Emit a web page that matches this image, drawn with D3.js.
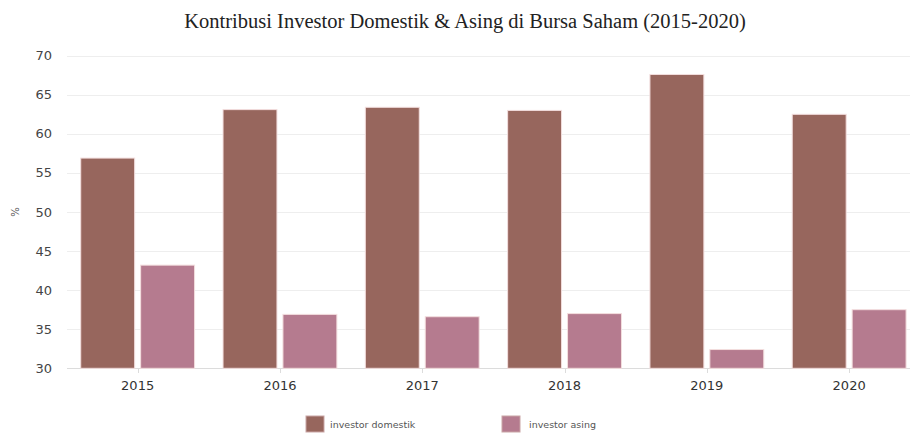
<!DOCTYPE html>
<html>
<head>
<meta charset="utf-8">
<script src="https://cdn.jsdelivr.net/npm/d3@7"></script>
<style>
  body { margin: 0; background: #fff; }
  svg { display: block; }
</style>
</head>
<body>
<div id="chart"></div>
<script>
// data
const years = ['2015', '2016', '2017', '2018', '2019', '2020'];
const seriesNames = ['investor domestik', 'investor asing'];
const domestik = [56.9, 63.1, 63.4, 63.0, 67.6, 62.5];
const asing = [43.2, 36.9, 36.6, 37.0, 32.4, 37.5];
const yTicks = [30, 35, 40, 45, 50, 55, 60, 65, 70];
const colors = ['#97665d', '#b57b8f'];

const width = 910, height = 433;
const svg = d3.select('#chart').append('svg')
    .attr('width', width)
    .attr('height', height);

const rows = years.map((y, i) => ({ year: y, values: [domestik[i], asing[i]] }));

// plot runs past the right edge, like the cropped original
const x0 = d3.scaleBand()
    .domain(years)
    .range([66.5, 920.3])
    .paddingInner(0.2)
    .paddingOuter(0.1);

const x1 = d3.scaleBand()
    .domain(seriesNames)
    .range([0, x0.bandwidth()])
    .paddingInner(0.1);

const y = d3.scaleLinear()
    .domain([30, 70])
    .range([368.3, 55.7]);

// gridlines
svg.append('g')
    .selectAll('line')
    .data(yTicks)
    .enter().append('line')
    .attr('x1', 67)
    .attr('x2', width)
    .attr('y1', d => Math.round(y(d)) + 0.5)
    .attr('y2', d => Math.round(y(d)) + 0.5)
    .attr('stroke', d => d === 30 ? '#dcdcdc' : '#eeeeee')
    .attr('stroke-width', 1);

// y tick labels
svg.append('g')
    .selectAll('text')
    .data(yTicks)
    .enter().append('text')
    .attr('x', 52)
    .attr('y', d => y(d) + 4.5)
    .attr('text-anchor', 'end')
    .style('font-family', 'DejaVu Sans, Verdana, sans-serif')
    .style('font-size', '13px')
    .style('fill', '#444')
    .text(d => d);

// y label
svg.append('text')
    .attr('transform', 'translate(19,212) rotate(-90)')
    .attr('text-anchor', 'middle')
    .style('font-family', 'DejaVu Sans, Verdana, sans-serif')
    .style('font-size', '10px')
    .style('fill', '#555')
    .text('%');

// x axis ticks + labels
const xAxis = svg.append('g');
xAxis.selectAll('line')
    .data(years)
    .enter().append('line')
    .attr('x1', d => Math.round(x0(d) + x0.bandwidth() / 2) + 0.5)
    .attr('x2', d => Math.round(x0(d) + x0.bandwidth() / 2) + 0.5)
    .attr('y1', 368)
    .attr('y2', 373)
    .attr('stroke', '#dcdcdc');
xAxis.selectAll('text')
    .data(years)
    .enter().append('text')
    .attr('x', d => x0(d) + x0.bandwidth() / 2)
    .attr('y', 390)
    .attr('text-anchor', 'middle')
    .style('font-family', 'DejaVu Sans, Verdana, sans-serif')
    .style('font-size', '13px')
    .style('fill', '#333')
    .text(d => d);

// bars
const groups = svg.append('g')
    .selectAll('g')
    .data(rows)
    .enter().append('g')
    .attr('transform', d => `translate(${x0(d.year)},0)`);

groups.selectAll('rect')
    .data(d => d.values.map((v, i) => ({ key: seriesNames[i], value: v, idx: i })))
    .enter().append('rect')
    .attr('x', d => x1(d.key))
    .attr('width', x1.bandwidth())
    .attr('y', d => y(d.value))
    .attr('height', d => y(30) - y(d.value))
    .attr('fill', d => colors[d.idx])
    .attr('stroke', '#f3dede')
    .attr('stroke-width', 1);

// title
svg.append('text')
    .attr('x', 465)
    .attr('y', 28)
    .attr('text-anchor', 'middle')
    .style('font-family', 'Liberation Serif, Times New Roman, serif')
    .style('font-size', '20.5px')
    .style('fill', '#222')
    .text('Kontribusi Investor Domestik & Asing di Bursa Saham (2015-2020)');

// legend
const legendX = [306, 502];
const legend = svg.append('g')
    .selectAll('g')
    .data(seriesNames)
    .enter().append('g')
    .attr('transform', (d, i) => `translate(${legendX[i]},416)`);
legend.append('rect')
    .attr('width', 18)
    .attr('height', 16)
    .attr('fill', (d, i) => colors[i])
    .attr('stroke', '#c9a5a5');
legend.append('text')
    .attr('x', (d, i) => i === 0 ? 24 : 27)
    .attr('y', 11.5)
    .style('font-family', 'DejaVu Sans, sans-serif')
    .style('font-size', '9.5px')
    .style('fill', '#555')
    .text(d => d);
</script>
</body>
</html>
